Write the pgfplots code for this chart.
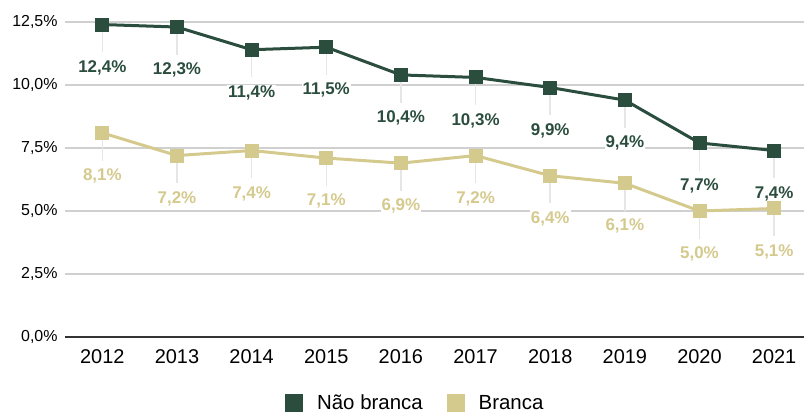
\documentclass[border=0pt]{standalone}
\usepackage{fontspec}
\setmainfont{Liberation Sans}
\usepackage{pgfplots}
\pgfplotsset{compat=1.18}
\definecolor{naobranca}{HTML}{2A4D3E}
\definecolor{branca}{HTML}{D5CA8E}
\definecolor{gridgray}{HTML}{D0D0D0}
\definecolor{leader}{HTML}{E6E6E6}

\begin{document}
\begin{tikzpicture}
\begin{axis}[
    scale only axis,
    width=739bp, height=315bp,
    xmin=-0.5, xmax=9.4,
    ymin=0, ymax=12.5,
    xtick={0,...,9},
    xticklabels={2012,2013,2014,2015,2016,2017,2018,2019,2020,2021},
    ytick={0,2.5,5,7.5,10,12.5},
    yticklabel={\pgfmathprintnumber[fixed,fixed zerofill,precision=1,use comma]{\tick}\%},
    /pgf/number format/assume math mode=true,
    axis lines*=left,
    y axis line style={draw=none},
    x axis line style={draw=black!80, line width=1.5bp},
    major tick length=0pt,
    ymajorgrids,
    grid style={gridgray, line width=1.2bp},
    x tick label style={font=\fontsize{20}{20}\selectfont, yshift=-9bp},
    y tick label style={font=\fontsize{16}{16}\selectfont, xshift=-4bp},
    legend style={at={(axis description cs:0.474,-0.21)}, anchor=center, draw=none,
        font=\fontsize{20.5}{21}\selectfont, legend columns=2,
        /tikz/every even column/.append style={column sep=22bp}},
    legend image code/.code={\fill[#1] (0bp,-7.5bp) rectangle (15bp,7.5bp); \path (27bp,0bp);},
    clip=false,
]
% leader lines
\addplot[draw=none, forget plot,
    error bars/.cd, y dir=minus, y explicit,
    error bar style={leader, line width=1.5bp}, error mark=none]
    coordinates {(0,12.4) +- (0,1.1) (1,12.3) +- (0,1.1) (2,11.4) +- (0,1.1)
    (3,11.5) +- (0,1.1) (4,10.4) +- (0,1.1) (5,10.3) +- (0,1.1) (6,9.9) +- (0,1.1)
    (7,9.4) +- (0,1.1) (8,7.7) +- (0,1.1) (9,7.4) +- (0,1.1)};
\addplot[draw=none, forget plot,
    error bars/.cd, y dir=minus, y explicit,
    error bar style={leader, line width=1.5bp}, error mark=none]
    coordinates {(0,8.1) +- (0,1.1) (1,7.2) +- (0,1.1) (2,7.4) +- (0,1.1)
    (3,7.1) +- (0,1.1) (4,6.9) +- (0,1.1) (5,7.2) +- (0,1.1) (6,6.4) +- (0,1.1)
    (7,6.1) +- (0,1.1) (8,5.0) +- (0,1.1) (9,5.1) +- (0,1.1)};

\addplot[naobranca, line width=3bp, mark=square*,
    mark options={draw=none, fill=naobranca}, mark size=5.5bp,
    nodes near coords={\pgfmathprintnumber[fixed,fixed zerofill,precision=1,use comma]{\pgfplotspointmeta}\%},
    every node near coord/.append style={anchor=center, yshift=-43bp,
        font=\bfseries\fontsize{17}{17}\selectfont, text=naobranca, fill=white, inner sep=1bp}]
    coordinates {(0,12.4) (1,12.3) (2,11.4) (3,11.5) (4,10.4) (5,10.3) (6,9.9)
    (7,9.4) (8,7.7) (9,7.4)};
\addlegendentry{Não branca}
\addplot[branca, line width=3bp, mark=square*,
    mark options={draw=none, fill=branca}, mark size=5.5bp,
    nodes near coords={\pgfmathprintnumber[fixed,fixed zerofill,precision=1,use comma]{\pgfplotspointmeta}\%},
    every node near coord/.append style={anchor=center, yshift=-43bp,
        font=\bfseries\fontsize{17}{17}\selectfont, text=branca, fill=white, inner sep=1bp}]
    coordinates {(0,8.1) (1,7.2) (2,7.4) (3,7.1) (4,6.9) (5,7.2) (6,6.4)
    (7,6.1) (8,5.0) (9,5.1)};
\addlegendentry{Branca}
\end{axis}
\pgfresetboundingbox
\path ([xshift=-65bp,yshift=-77bp]current axis.south west) rectangle ([yshift=22bp]current axis.north east);
\end{tikzpicture}
\end{document}
